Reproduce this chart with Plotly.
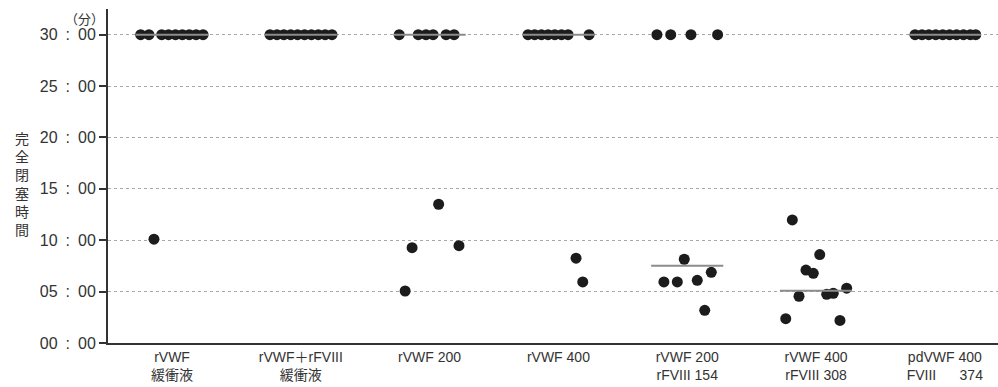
import numpy as np
import plotly.graph_objects as go

# ---- data (minutes until complete occlusion) ----
categories = ["rVWF<br>緩衝液", "rVWF＋rFVIII<br>緩衝液", "rVWF 200", "rVWF 400",
              "rVWF 200<br>rFVIII 154", "rVWF 400<br>rFVIII 308",
              "pdVWF 400<br>FVIII\u00a0\u00a0\u00a0\u00a0\u00a0 374"]

times_rvwf_buffer = [30, 30, 30, 30, 30, 30, 30, 30, 30, 10.1]
times_rvwf_rfviii_buffer = [30, 30, 30, 30, 30, 30, 30, 30, 30, 30]
times_rvwf200 = [30, 30, 30, 30, 30, 30, 13.5, 9.28, 9.47, 5.06]
times_rvwf400 = [30, 30, 30, 30, 30, 30, 30, 30, 8.25, 5.94]
times_rvwf200_rfviii154 = [30, 30, 30, 30, 8.15, 5.94, 5.94, 6.1, 6.88, 3.18]
times_rvwf400_rfviii308 = [11.98, 8.6, 7.1, 6.78, 4.55, 4.74, 4.84, 5.33, 2.37, 2.2]
times_pdvwf400_fviii374 = [30, 30, 30, 30, 30, 30, 30, 30, 30, 30]

# horizontal jitter of each dot (category units)
offs_rvwf_buffer = [-0.243, -0.179, -0.080, -0.027, 0.027, 0.080, 0.134, 0.187, 0.241, -0.140]
offs_rvwf_rfviii_buffer = [-0.239, -0.185, -0.132, -0.078, -0.025, 0.029, 0.082, 0.136, 0.189, 0.242]
offs_rvwf200 = [-0.236, -0.088, -0.028, 0.027, 0.128, 0.190, 0.070, -0.136, 0.228, -0.190]
offs_rvwf400 = [-0.236, -0.184, -0.132, -0.080, -0.028, 0.024, 0.075, 0.238, 0.137, 0.189]
offs_rvwf200_rfviii154 = [-0.235, -0.128, 0.029, 0.236, -0.023, -0.181, -0.077, 0.078, 0.187, 0.136]
offs_rvwf400_rfviii308 = [-0.184, 0.029, -0.078, -0.021, -0.132, 0.083, 0.134, 0.238, -0.235, 0.186]
offs_pdvwf400_fviii374 = [-0.231, -0.177, -0.124, -0.070, -0.016, 0.037, 0.091, 0.145, 0.198, 0.240]

y_tick_vals = [0, 5, 10, 15, 20, 25, 30]
y_tick_text = ["00\u2002:\u200200", "05\u2002:\u200200", "10\u2002:\u200200", "15\u2002:\u200200",
               "20\u2002:\u200200", "25\u2002:\u200200", "30\u2002:\u200200"]
y_title_chars = ["完", "全", "閉", "塞", "時", "間"]

groups_t = [times_rvwf_buffer, times_rvwf_rfviii_buffer, times_rvwf200, times_rvwf400,
            times_rvwf200_rfviii154, times_rvwf400_rfviii308, times_pdvwf400_fviii374]
groups_o = [offs_rvwf_buffer, offs_rvwf_rfviii_buffer, offs_rvwf200, offs_rvwf400,
            offs_rvwf200_rfviii154, offs_rvwf400_rfviii308, offs_pdvwf400_fviii374]

FONT = "Liberation Sans, Arial, Noto Sans CJK JP, sans-serif"
DOT = "#1c1c1c"

fig = go.Figure()

xs, ys = [], []
for i, (t, o) in enumerate(zip(groups_t, groups_o)):
    xs += [i + d for d in o]
    ys += list(t)
fig.add_trace(go.Scatter(x=xs, y=ys, mode="markers",
                         marker=dict(size=11, color=DOT, line=dict(width=0)),
                         showlegend=False, hoverinfo="y"))

# median bars
for i, t in enumerate(groups_t):
    m = float(np.median(t))
    fig.add_trace(go.Scatter(x=[i - 0.28, i + 0.28], y=[m, m], mode="lines",
                             line=dict(color="#8c8c8c", width=2),
                             showlegend=False, hoverinfo="skip"))

fig.update_layout(
    width=998, height=387,
    margin=dict(l=108, r=0, t=9, b=44),
    paper_bgcolor="white", plot_bgcolor="white",
    font=dict(family=FONT, color="#333333"),
    xaxis=dict(range=[-0.497, 6.413], tickmode="array", tickvals=list(range(len(categories))),
               ticktext=categories, showgrid=False, zeroline=False,
               showline=True, linecolor="#333333", linewidth=2, ticks="",
               tickfont=dict(size=14, color="#333333"), automargin=False),
    yaxis=dict(range=[0, 32.5], tickmode="array", tickvals=y_tick_vals, ticktext=y_tick_text,
               showgrid=True, gridcolor="#a8a8a8", griddash="dot", gridwidth=1,
               zeroline=False, showline=True, linecolor="#333333", linewidth=2,
               ticks="outside", ticklen=7, tickwidth=1.5, tickcolor="#333333",
               tickfont=dict(size=16, color="#333333"), automargin=False),
)

# vertical y-axis title, one character per line
fig.add_annotation(text="<br>".join(y_title_chars), xref="paper", yref="paper",
                   x=(21.7 - 108) / 890, y=(343 - 183) / 334,
                   showarrow=False, xanchor="center", yanchor="middle",
                   borderpad=0, align="center",
                   font=dict(size=14, color="#333333", family="Noto Sans CJK JP"))

fig.add_annotation(text="（分）", xref="paper", yref="paper",
                   x=(84 - 108) / 890, y=(343 - 18) / 334, showarrow=False,
                   xanchor="center", yanchor="middle",
                   font=dict(size=13, color="#333333", family="Noto Sans CJK JP"))

fig.write_html("out.html", config={"displayModeBar": False},
               post_script="document.body.style.margin='0px';document.body.style.overflow='hidden';")
